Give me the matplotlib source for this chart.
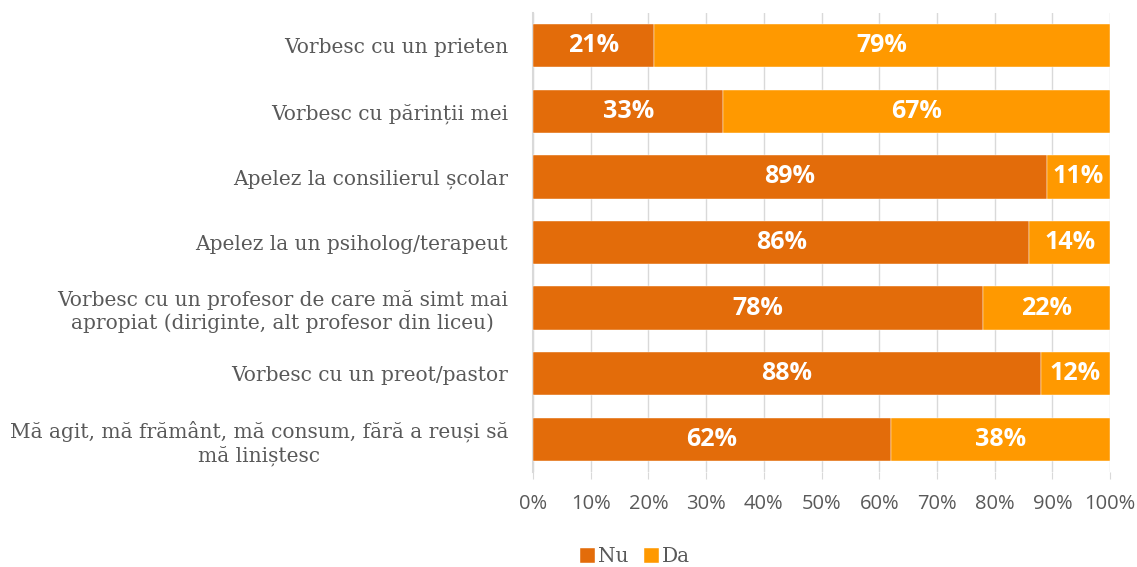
import numpy as np
import matplotlib.pyplot as plt

categories = [
    'Vorbesc cu un prieten',
    'Vorbesc cu părinții mei',
    'Apelez la consilierul școlar',
    'Apelez la un psiholog/terapeut',
    'Vorbesc cu un profesor de care mă simt mai\napropiat (diriginte, alt profesor din liceu)',
    'Vorbesc cu un preot/pastor',
    'Mă agit, mă frământ, mă consum, fără a reuși să\nmă liniștesc',
]
nu = [21, 33, 89, 86, 78, 88, 62]
da = [79, 67, 11, 14, 22, 12, 38]

nu_color = '#E36C0A'
da_color = '#FF9900'
text_gray = '#595959'

fig = plt.figure(figsize=(11.37, 5.67), dpi=100)
ax = fig.add_axes([0.4688, 0.1676, 0.5075, 0.8094])

y = np.arange(len(categories))
h = 0.66
bars_nu = ax.barh(y, nu, height=h, color=nu_color, label='Nu', zorder=3,
                  edgecolor='white', linewidth=0.3)
bars_da = ax.barh(y, da, left=nu, height=h, color=da_color, label='Da', zorder=3,
                  edgecolor='white', linewidth=0.3)

for bars, vals in ((bars_nu, nu), (bars_da, da)):
    ax.bar_label(bars, labels=[f'{v}%' for v in vals], label_type='center',
                 color='white', fontsize=18, fontweight='bold', family='Open Sans')

ax.set_xlim(0, 100)
ax.set_ylim(len(categories) - 0.5, -0.5)
ax.set_xticks(np.arange(0, 101, 10))
ax.set_xticklabels([f'{v}%' for v in range(0, 101, 10)], family='Open Sans',
                   fontsize=14.5, color=text_gray)
ax.set_yticks(y)
ax.set_yticklabels(categories, family='DejaVu Serif', fontsize=14.5,
                   color=text_gray, multialignment='center')

ax.grid(axis='x', color='#D9D9D9', linewidth=1, zorder=0)
for s in ('top', 'right', 'bottom'):
    ax.spines[s].set_visible(False)
ax.spines['left'].set_color('#D9D9D9')
ax.spines['left'].set_linewidth(1.5)
ax.tick_params(axis='y', length=0, pad=18)
ax.tick_params(axis='x', length=5, color='#D9D9D9', pad=11)

fig.legend(handles=[bars_nu, bars_da], labels=['Nu', 'Da'], loc='center',
           bbox_to_anchor=(635 / 1137, 1 - 557 / 567), ncol=2, frameon=False,
           prop={'family': 'DejaVu Serif', 'size': 14.5}, handlelength=0.75,
           handleheight=0.75, handletextpad=0.15, columnspacing=0.75,
           labelcolor=text_gray)

fig.savefig('out.png', dpi=100)
